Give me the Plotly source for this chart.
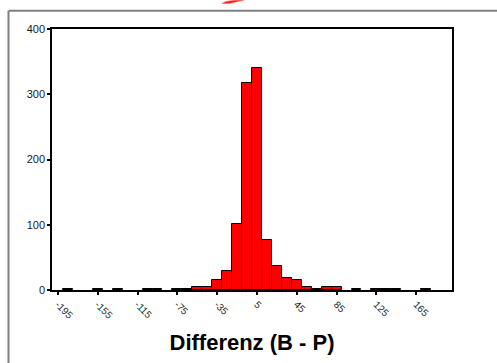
import plotly.graph_objects as go

# Histogram of the difference B - P, bins of width 10 (values are bin centres)
bin_centers = [-185, -155, -135, -105, -95, -75, -65, -55, -45, -35, -25, -15,
               -5, 5, 15, 25, 35, 45, 55, 65, 75, 85, 105, 125, 135, 145, 175]
counts = [1, 1, 1, 1, 1, 1, 1, 5, 5, 15, 29, 101,
          318, 340, 76, 37, 18, 15, 4, 1, 5, 5, 1, 1, 1, 1, 1]

x_tickvals = [-195, -155, -115, -75, -35, 5, 45, 85, 125, 165]
x_ticktext = [str(v) for v in x_tickvals]
y_tickvals = [0, 100, 200, 300, 400]
x_title = "Differenz (B - P)"

W, H = 497, 363
ML, MR, MT, MB = 52, 45, 29, 71
PW, PH = W - ML - MR, H - MT - MB


def px(x):
    return (x - ML) / PW


def py(y):
    return (MT + PH - y) / PH


FONT = "Arial, Liberation Sans, sans-serif"

fig = go.Figure(
    go.Bar(
        x=bin_centers,
        y=counts,
        width=10,
        marker=dict(color="#ff0000", line=dict(color="#000000", width=1)),
        hoverinfo="x+y",
    )
)

fig.update_layout(
    width=W,
    height=H,
    margin=dict(l=ML, r=MR, t=MT, b=MB),
    paper_bgcolor="white",
    plot_bgcolor="white",
    showlegend=False,
    bargap=0,
    font=dict(family=FONT, size=11, color="#1a1a1a"),
)

fig.update_xaxes(
    range=[-201, 201],
    tickvals=x_tickvals,
    ticktext=x_ticktext,
    tickangle=45,
    ticks="outside",
    ticklen=3,
    tickwidth=2,
    tickcolor="#000000",
    showline=True,
    linecolor="#000000",
    linewidth=1.5,
    mirror=True,
    showgrid=False,
    zeroline=False,
    tickfont=dict(size=10),
    title=dict(text=x_title, font=dict(family=FONT, size=22, color="#000000",
                                        weight="bold"), standoff=14),
)

fig.update_yaxes(
    range=[0, 400],
    tickvals=y_tickvals,
    ticks="outside",
    ticklen=3,
    tickwidth=2,
    tickcolor="#000000",
    showline=True,
    linecolor="#000000",
    linewidth=1.5,
    mirror=True,
    showgrid=False,
    zeroline=False,
    tickfont=dict(size=11),
)

# Outer grey frame (top and left edges)
fig.add_shape(type="line", xref="paper", yref="paper",
              x0=px(8.5), x1=px(W + 5), y0=py(10.5), y1=py(10.5),
              line=dict(color="#808080", width=2))
fig.add_shape(type="line", xref="paper", yref="paper",
              x0=px(8.5), x1=px(8.5), y0=py(10.5), y1=py(H + 5),
              line=dict(color="#808080", width=2))

# Red stroke at the top edge
pts = [(222, 3.2), (226, 1.2), (234, 0), (244, 0), (237, 1.6), (229, 3.4)]
path = "M " + " L ".join(f"{px(a):.5f},{py(b):.5f}" for a, b in pts) + " Z"
fig.add_shape(type="path", xref="paper", yref="paper", path=path,
              fillcolor="#ff2020", line=dict(color="#ff6060", width=0.5))

fig.write_html("out.html")
